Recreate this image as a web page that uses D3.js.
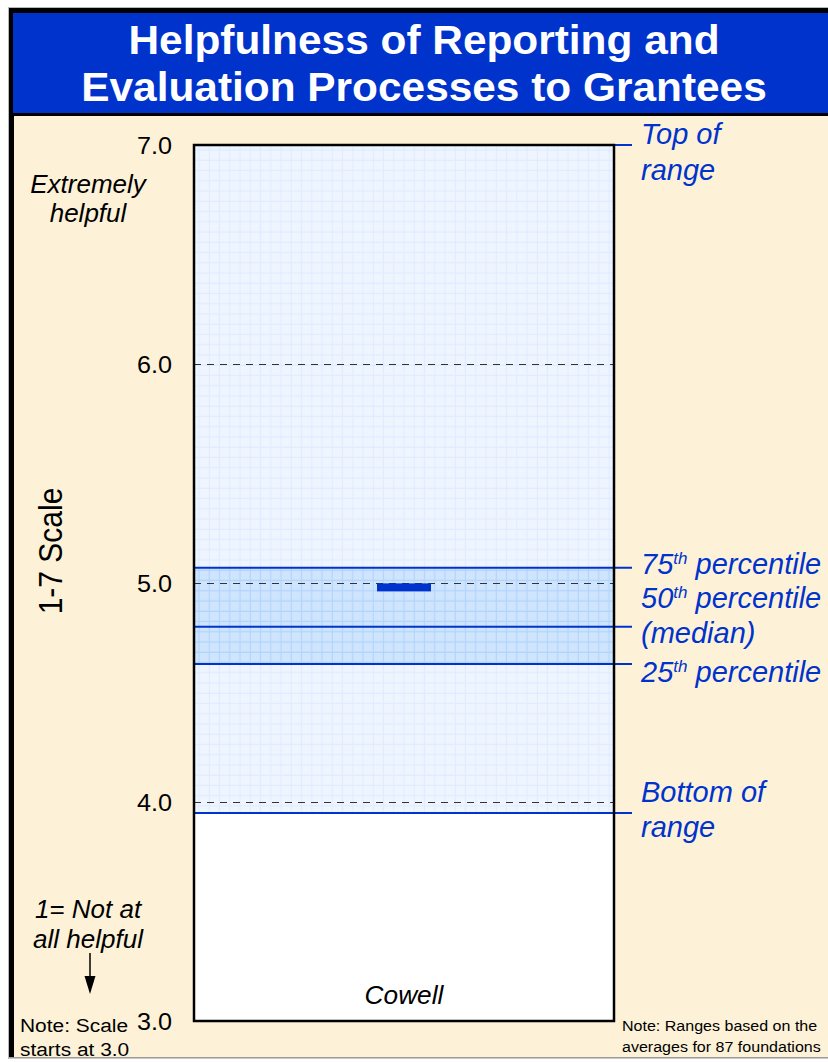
<!DOCTYPE html>
<html>
<head>
<meta charset="utf-8">
<script src="https://cdn.jsdelivr.net/npm/d3@7"></script>
<style>
  html, body { margin: 0; padding: 0; background: #fff; }
  svg { display: block; }
</style>
</head>
<body>
<svg id="chart" width="828" height="1062"></svg>
<script>
// ---- chart data ----
const titleLines = ["Helpfulness of Reporting and", "Evaluation Processes to Grantees"];
const categories = ["Cowell"];
const categoryScores = [4.98];
const rangeKeys = ["top", "p75", "p50", "p25", "bottom"];
const rangeValues = [7.0, 5.07, 4.80, 4.63, 3.95];
const rangeLabelLines = [
  ["Top of", "range"],
  ["75|th| percentile"],
  ["50|th| percentile", "(median)"],
  ["25|th| percentile"],
  ["Bottom of", "range"]
];
const scaleTicks = [3, 4, 5, 6, 7];
const gridValues = [4, 5, 6];
const axisTitle = "1-7 Scale";
const topAnchorLines = ["Extremely", "helpful"];
const bottomAnchorLines = ["1= Not at", "all helpful"];
const leftNoteLines = ["Note: Scale", "starts at 3.0"];
const rightNoteLines = ["Note: Ranges based on the", "averages for 87 foundations"];

// ---- layout ----
const FONT = "'Liberation Sans', Arial, Helvetica, sans-serif";
const BLUE = "#0033cc";
const CREAM = "#fdf2d8";
const plot = { left: 194, right: 614, top: 145, bottom: 1021 };

const svg = d3.select("#chart");
const range = {};
rangeKeys.forEach((k, i) => range[k] = rangeValues[i]);

const y = d3.scaleLinear().domain([3, 7]).range([plot.bottom, plot.top]);
const x = d3.scaleBand().domain(categories).range([plot.left, plot.right]);

function txt(parent, px, py, str, o) {
  let tr = `translate(${px},${py}) scale(${o.sx || 1},1)`;
  if (o.rotate) tr += ` rotate(${o.rotate})`;
  return parent.append("text")
    .attr("transform", tr)
    .attr("text-anchor", o.anchor || "start")
    .attr("fill", o.fill || "#000")
    .style("font-family", FONT)
    .style("font-size", o.size + "px")
    .style("font-weight", o.weight || "normal")
    .style("font-style", o.italic ? "italic" : "normal")
    .text(str);
}

// ---- frame ----
svg.append("rect").attr("x", 8.5).attr("y", 7.5).attr("width", 830).attr("height", 1051)
  .attr("fill", "none").attr("stroke", "#b8b8b8").attr("stroke-width", 1);
svg.append("rect").attr("x", 9).attr("y", 8).attr("width", 830).attr("height", 1050).attr("fill", "#000");
svg.append("rect").attr("x", 14).attr("y", 116).attr("width", 820).attr("height", 941).attr("fill", CREAM);
svg.append("rect").attr("x", 13).attr("y", 13).attr("width", 820).attr("height", 100).attr("fill", BLUE);
svg.append("line").attr("x1", 9).attr("x2", 828).attr("y1", 1058).attr("y2", 1058)
  .attr("stroke", "#cfcfcf").attr("stroke-width", 1.5);

// ---- title ----
titleLines.forEach((t, i) => {
  txt(svg, 424, 54 + i * 47, t, { size: 40, sx: 1.06, weight: "bold", fill: "#fff", anchor: "middle" });
});

// ---- fill patterns ----
const defs = svg.append("defs");
function gridPattern(id, base, line) {
  const p = defs.append("pattern").attr("id", id)
    .attr("patternUnits", "userSpaceOnUse")
    .attr("x", plot.left).attr("y", plot.top)
    .attr("width", 10.25).attr("height", 10.25);
  p.append("rect").attr("width", 10.25).attr("height", 10.25).attr("fill", base);
  p.append("path").attr("d", "M0 5 H10.25 M5 0 V10.25")
    .attr("stroke", line).attr("stroke-width", 1);
}
gridPattern("rangeFill", "#eef5ff", "#dfecff");
gridPattern("iqrFill", "#cfe4fd", "#afd3fc");

// ---- plot area ----
const g = svg.append("g");
g.append("rect").attr("x", plot.left).attr("y", plot.top)
  .attr("width", plot.right - plot.left).attr("height", plot.bottom - plot.top).attr("fill", "#fff");
g.append("rect").attr("x", plot.left).attr("y", y(range.top))
  .attr("width", plot.right - plot.left).attr("height", y(range.bottom) - y(range.top))
  .attr("fill", "url(#rangeFill)");
g.append("rect").attr("x", plot.left).attr("y", y(range.p75))
  .attr("width", plot.right - plot.left).attr("height", y(range.p25) - y(range.p75))
  .attr("fill", "url(#iqrFill)");

// dashed reference lines
g.selectAll("line.grid").data(gridValues).join("line").attr("class", "grid")
  .attr("x1", plot.left).attr("x2", plot.right)
  .attr("y1", d => Math.round(y(d)) + 0.5).attr("y2", d => Math.round(y(d)) + 0.5)
  .attr("stroke", "#333").attr("stroke-width", 1.2).attr("stroke-dasharray", "7,6");

// percentile / range lines with stubs to the labels
g.selectAll("line.range").data(rangeValues).join("line").attr("class", "range")
  .attr("x1", plot.left).attr("x2", plot.right + 18)
  .attr("y1", d => y(d)).attr("y2", d => y(d))
  .attr("stroke", BLUE).attr("stroke-width", 2);

// foundation score marker
g.selectAll("rect.score").data(categories).join("rect").attr("class", "score")
  .attr("x", d => x(d) + x.bandwidth() / 2 - 27)
  .attr("y", (d, i) => y(categoryScores[i]) - 4)
  .attr("width", 54).attr("height", 8)
  .attr("fill", BLUE);

// plot border
g.append("rect").attr("x", plot.left).attr("y", plot.top)
  .attr("width", plot.right - plot.left).attr("height", plot.bottom - plot.top)
  .attr("fill", "none").attr("stroke", "#000").attr("stroke-width", 2.5);

// ---- y axis ----
const sxTick = 1.05;
const axis = svg.append("g").attr("transform", `translate(${plot.left},0)`)
  .call(d3.axisLeft(y).tickValues(scaleTicks).tickSize(0).tickPadding(22).tickFormat(d3.format(".1f")));
axis.select(".domain").remove();
axis.selectAll("text")
  .attr("x", -22 / sxTick)
  .attr("dy", "0.36em")
  .attr("transform", `scale(${sxTick},1)`)
  .attr("fill", "#000")
  .style("font-family", FONT)
  .style("font-size", "24px");

txt(svg, 62, 551, axisTitle, { size: 30, sx: 1.12, rotate: -90, anchor: "middle" });

// ---- category label ----
categories.forEach(c => {
  txt(svg, x(c) + x.bandwidth() / 2, 1004, c, { size: 25, sx: 1.05, italic: true, anchor: "middle" });
});

// ---- left annotations ----
topAnchorLines.forEach((t, i) => txt(svg, 88, 193 + i * 29, t, { size: 26, italic: true, anchor: "middle" }));
bottomAnchorLines.forEach((t, i) => txt(svg, 88, 918 + i * 30, t, { size: 26, italic: true, anchor: "middle" }));

svg.append("line").attr("x1", 90).attr("x2", 90).attr("y1", 953).attr("y2", 978)
  .attr("stroke", "#000").attr("stroke-width", 1.5);
svg.append("path").attr("d", "M84.5,976 L95.5,976 L90,994 Z").attr("fill", "#000");

leftNoteLines.forEach((t, i) => txt(svg, 20, 1032 + i * 24, t, { size: 19, sx: 1.1 }));
rightNoteLines.forEach((t, i) => txt(svg, 622, 1031 + i * 21, t, { size: 15, sx: 1.07 }));

// ---- range labels on the right ----
const labelOffsets = { top: [-1, 35], p75: [6], p50: [-19, 16], p25: [18], bottom: [-11, 24] };
rangeKeys.forEach((k, i) => {
  rangeLabelLines[i].forEach((line, j) => {
    const t = svg.append("text")
      .attr("x", 641).attr("y", y(range[k]) + labelOffsets[k][j])
      .attr("fill", BLUE)
      .style("font-family", FONT).style("font-style", "italic").style("font-size", "29px");
    const parts = line.split("|");
    parts.forEach((p, n) => {
      const ts = t.append("tspan").text(p);
      if (n === 1) ts.style("font-size", "17px").attr("dy", -10);
      if (n === 2) ts.attr("dy", 10);
    });
  });
});
</script>
</body>
</html>
